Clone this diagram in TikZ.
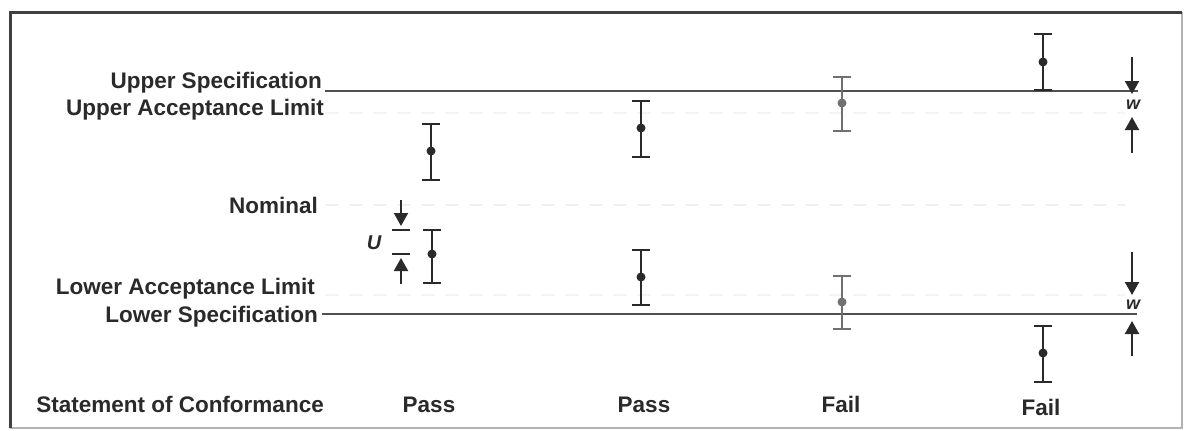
\documentclass[tikz,border=0pt]{standalone}
\usepackage{fontspec}
\setmainfont{Liberation Sans}
\usetikzlibrary{arrows.meta}
\definecolor{ink}{HTML}{2A2A2A}
\definecolor{lineink}{HTML}{505050}
\definecolor{lightink}{HTML}{707070}
\tikzset{
  lbl/.style={anchor=base east, inner sep=0pt, text=ink, font=\fontsize{22.5}{27}\selectfont\bfseries},
  verdict/.style={anchor=base, inner sep=0pt, text=ink, font=\fontsize{22.5}{27}\selectfont\bfseries},
  specline/.style={draw=lineink, line width=2pt},
  faint/.style={draw=black!6, line width=1.2pt, dash pattern=on 14pt off 10pt},
  bar/.style={line width=2.4pt},
  dotnode/.style={circle, inner sep=0pt, minimum size=9pt},
  dimarrow/.style={draw=ink, line width=2pt, -{Triangle[width=14pt,length=13pt]}},
  sym/.style={inner sep=0pt, text=ink, font=\fontsize{18}{18}\selectfont\bfseries\itshape},
}
\newcommand\ebar[6]{% name, x, top, dot, bottom, colour
  \coordinate (#1t) at (#2,#3);
  \coordinate (#1b) at (#2,#5);
  \node[dotnode, fill=#6] (#1) at (#2,#4) {};
  \draw[bar, draw=#6] (#1t) -- (#1b);
  \draw[bar, draw=#6] ([xshift=-9pt]#1t) -- ([xshift=9pt]#1t);
  \draw[bar, draw=#6] ([xshift=-9pt]#1b) -- ([xshift=9pt]#1b);
}
\begin{document}
\begin{tikzpicture}[x=1pt,y=-1pt]
\useasboundingbox (0,0) rectangle (1184,431);
\fill[white] (0,0) rectangle (1184,431);
% frame
\coordinate (ftl) at (10,12);
\coordinate (ftr) at (1182,12);
\coordinate (fbl) at (10,428);
\coordinate (fbr) at (1182,428);
\draw[black!30, line width=1.2pt] (ftr) -- (fbr) -- (fbl);
\draw[black!75, line width=3pt] (fbl) -- (ftl) -- (ftr);

% faint reference lines
\coordinate (nomA) at (325,205); \coordinate (nomB) at (1125,205);
\draw[faint] (nomA) -- (nomB);
\coordinate (ualA) at (325,113); \coordinate (ualB) at (1125,113);
\draw[faint, draw=black!4] (ualA) -- (ualB);
\coordinate (lalA) at (325,295); \coordinate (lalB) at (1125,295);
\draw[faint, draw=black!4] (lalA) -- (lalB);

% specification lines
\coordinate (usA) at (325,91); \coordinate (usB) at (1138,91);
\draw[specline] (usA) -- (usB);
\coordinate (lsA) at (322,314); \coordinate (lsB) at (1137,314);
\draw[specline] (lsA) -- (lsB);

% labels
\node[lbl] (lus) at (322,88) {Upper Specification};
\node[lbl] (lual) at (324,115) {Upper Acceptance Limit};
\node[lbl] (lnom) at (318,213) {Nominal};
\node[lbl] (llal) at (315,294) {Lower Acceptance Limit};
\node[lbl] (lls) at (318,322) {Lower Specification};
\node[lbl] (lsoc) at (324,412) {Statement of Conformance};

\node[verdict] (v1) at (429,412) {Pass};
\node[verdict] (v2) at (644,412) {Pass};
\node[verdict] (v3) at (841,412) {Fail};
\node[verdict] (v4) at (1041,415) {Fail};

% error bars
\ebar{e1}{431}{124}{151}{180}{ink}
\ebar{e2}{432}{230}{254}{283}{ink}
\ebar{e3}{641}{101}{128}{157}{ink}
\ebar{e4}{641}{250}{277}{305}{ink}
\ebar{e5}{842}{77}{103}{131}{lightink}
\ebar{e6}{842}{276}{302}{329}{lightink}
\ebar{e7}{1043}{34}{62}{90}{ink}
\ebar{e8}{1043}{326}{353}{382}{ink}

% U dimension
\coordinate (ubarT) at (401,230);
\coordinate (ubarB) at (401,254);
\draw[ink, line width=2.2pt] ([xshift=-9pt]ubarT) -- ([xshift=9pt]ubarT);
\draw[ink, line width=2.2pt] ([xshift=-9pt]ubarB) -- ([xshift=9pt]ubarB);
\coordinate (uTs) at (401,200);
\coordinate (uTe) at (401,226);
\coordinate (uBs) at (401,284);
\coordinate (uBe) at (401,258);
\draw[dimarrow] (uTs) -- (uTe);
\draw[dimarrow] (uBs) -- (uBe);
\node[sym, font=\fontsize{20}{20}\selectfont\bfseries\itshape] (U) at (374,243) {U};

% w dimensions
\coordinate (w1s) at (1132,57);
\coordinate (w1e) at (1132,94);
\coordinate (w2s) at (1132,153);
\coordinate (w2e) at (1132,117);
\draw[dimarrow] (w1s) -- (w1e);
\draw[dimarrow] (w2s) -- (w2e);
\node[sym] (w1) at (1133,105) {w};

\coordinate (w3s) at (1132,252);
\coordinate (w3e) at (1132,295);
\coordinate (w4s) at (1132,356);
\coordinate (w4e) at (1132,321);
\draw[dimarrow] (w3s) -- (w3e);
\draw[dimarrow] (w4s) -- (w4e);
\node[sym] (w2) at (1133,305) {w};
\end{tikzpicture}
\end{document}
